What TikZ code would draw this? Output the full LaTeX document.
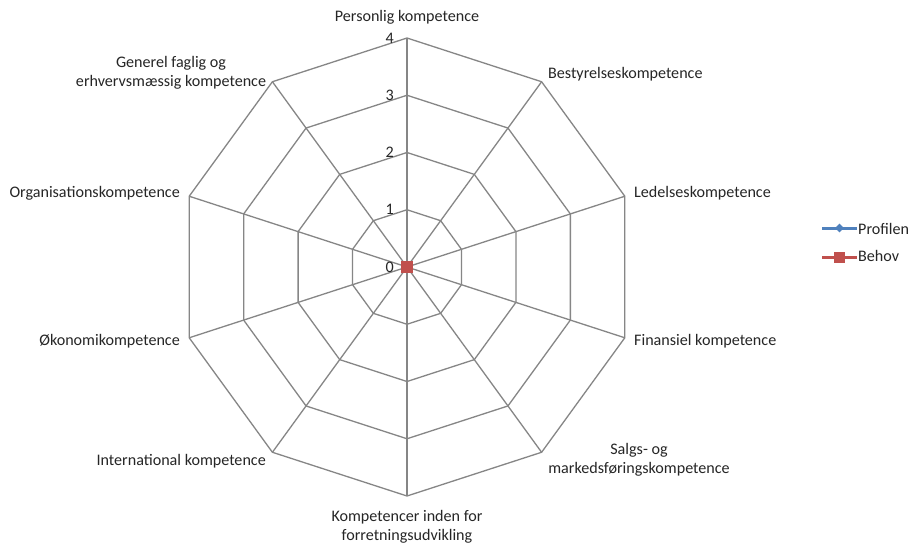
\documentclass[tikz,border=0pt]{standalone}
\usepackage{fontspec}
\setmainfont{Carlito}
\usetikzlibrary{calc,shapes.geometric}
\definecolor{gridgray}{HTML}{868686}
\definecolor{seriesblue}{HTML}{4F81BD}
\definecolor{seriesred}{HTML}{C0504D}
\begin{document}
\begin{tikzpicture}[x=1pt,y=-1pt,
  gridline/.style={draw=gridgray,line width=1.3pt},
  axislabel/.style={font=\fontsize{16.1}{19}\selectfont,text=black!85,inner sep=0pt,align=center},
  ticklabel/.style={font=\fontsize{16.1}{19}\selectfont,text=black!85,inner sep=0pt,anchor=east},
  legendline/.style={line width=3pt}]
\useasboundingbox (0,0) rectangle (912,547);
\fill[white] (0,0) rectangle (912,547);
\coordinate (c) at (407,267);
% concentric decagon rings for values 1..4
\foreach \r in {1,2,3,4}{
  \draw[gridline] ($(c)+(-90:{57.25*\r})$) \foreach \k in {1,...,9}{ -- ($(c)+({-90+36*\k}:{57.25*\r})$)} -- cycle;
}
% spokes
\foreach \k in {0,...,9}{
  \coordinate (v\k) at ($(c)+({-90+36*\k}:229)$);
  \draw[gridline] (c) -- (v\k);
}
% value scale
\foreach \r in {0,1,2,3,4}{
  \node[ticklabel] (t\r) at (394,{267-57.25*\r}) {\r};
}
% axis labels
\node[axislabel] (a0) at (407,17) {Personlig kompetence};
\node[axislabel,anchor=west] (a1) at (548,74) {Bestyrelseskompetence};
\node[axislabel,anchor=west] (a2) at (634,193) {Ledelseskompetence};
\node[axislabel,anchor=west] (a3) at (634,341) {Finansiel kompetence};
\node[axislabel] (a4) at (639,460) {Salgs- og\\markedsføringskompetence};
\node[axislabel] (a5) at (407,527) {Kompetencer inden for\\forretningsudvikling};
\node[axislabel,anchor=east] (a6) at (266,461) {International kompetence};
\node[axislabel,anchor=east] (a7) at (180,341) {Økonomikompetence};
\node[axislabel,anchor=east] (a8) at (180,193) {Organisationskompetence};
\node[axislabel] (a9) at (171,73) {Generel faglig og\\erhvervsmæssig kompetence};
% data markers at the origin
\node[fill=seriesblue,diamond,inner sep=0pt,minimum size=9pt] (p0) at (c) {};
\node[fill=seriesred,inner sep=0pt,minimum size=11.5pt] (b0) at (c) {};
% legend
\coordinate (l1a) at (822,228);
\coordinate (l1b) at (857,228);
\draw[seriesblue,legendline] (l1a) -- (l1b);
\node[fill=seriesblue,diamond,inner sep=0pt,minimum size=9pt] (lm1) at ($(l1a)!0.5!(l1b)$) {};
\node[axislabel,anchor=west] (lt1) at (858,229) {Profilen};
\coordinate (l2a) at (822,257);
\coordinate (l2b) at (857,257);
\draw[seriesred,legendline] (l2a) -- (l2b);
\node[fill=seriesred,inner sep=0pt,minimum size=11pt] (lm2) at ($(l2a)!0.5!(l2b)$) {};
\node[axislabel,anchor=west] (lt2) at (858,256) {Behov};
\end{tikzpicture}
\end{document}
